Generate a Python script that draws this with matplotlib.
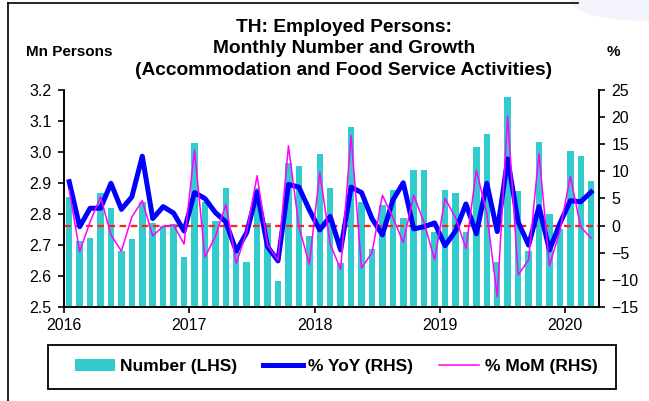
import matplotlib
matplotlib.use("Agg")
import matplotlib.pyplot as plt
import numpy as np
from matplotlib.patches import Patch, Ellipse, Rectangle
from matplotlib.lines import Line2D

plt.rcParams['font.family'] = ['Liberation Sans', 'DejaVu Sans']

# monthly data, Jan 2016 - Mar 2020
number = [2.854, 2.713, 2.724, 2.867, 2.820, 2.681, 2.719, 2.840, 2.772, 2.761, 2.767, 2.662,
          3.028, 2.840, 2.777, 2.883, 2.700, 2.646, 2.883, 2.772, 2.584, 2.966, 2.955, 2.729,
          2.994, 2.883, 2.643, 3.080, 2.840, 2.686, 2.829, 2.877, 2.788, 2.942, 2.942, 2.743,
          2.877, 2.867, 2.743, 3.017, 3.057, 2.646, 3.176, 2.874, 2.681, 3.032, 2.801, 2.750,
          3.003, 2.988, 2.906]
yoy = [8.1, -0.2, 3.2, 3.2, 7.8, 3.0, 5.3, 12.8, 1.3, 3.5, 2.3, -1.0,
       6.1, 5.0, 2.4, 0.7, -4.7, -1.3, 6.2, -3.9, -6.5, 7.6, 7.1, 2.9,
       -0.8, 1.7, -4.5, 7.1, 6.1, 1.3, -1.7, 4.7, 7.9, -0.6, -0.2, 0.5,
       -3.7, -1.0, 4.0, -1.5, 7.8, -1.1, 12.3, 0.7, -3.6, 3.5, -4.5, 0.4,
       4.6, 4.4, 6.2]
mom = [6.6, -4.8, 0.7, 5.3, -1.7, -4.7, 1.6, 4.6, -1.9, -0.1, 0.1, -3.4,
       13.9, -5.8, -2.0, 3.9, -7.0, -1.1, 9.2, -3.6, -6.3, 14.7, -0.2, -7.1,
       9.8, -3.4, -8.1, 16.6, -7.8, -5.0, 5.6, 1.5, -3.1, 5.6, 0.5, -6.3,
       5.0, 1.5, -4.2, 10.2, 2.3, -13.1, 20.2, -9.1, -6.3, 13.3, -7.4, -1.0,
       9.1, -0.3, -2.3]
years = ['2016', '2017', '2018', '2019', '2020']
left_ticks = [2.5, 2.6, 2.7, 2.8, 2.9, 3.0, 3.1, 3.2]
right_ticks = [-15, -10, -5, 0, 5, 10, 15, 20, 25]

x = np.arange(len(number))

fig = plt.figure(figsize=(6.49, 4.01), dpi=100)
ax = fig.add_axes([0.0986, 0.2344, 0.8244, 0.5412])
ax2 = ax.twinx()

ax.bar(x, np.array(number) - 2.5, bottom=2.5, width=0.62, color='#33CCCC', edgecolor='none', zorder=2)
ax2.axhline(0, color='#FF2020', ls=(0, (3, 2)), lw=1.6, zorder=1)
ax2.plot(x, yoy, color='#0000FF', lw=3.6, solid_joinstyle='round', zorder=3)
ax2.plot(x, mom, color='#FF00FF', lw=1.1, zorder=4)

ax.set_xlim(-0.5, 50.75)
ax.set_ylim(2.5, 3.2)
ax2.set_ylim(-15, 25)
ax.set_yticks(left_ticks)
ax.set_yticklabels(['%.1f' % v for v in left_ticks])
ax2.set_yticks(right_ticks)
ax.set_xticks([-0.5 + 12 * i for i in range(len(years))])
ax.set_xticklabels(years)

for a in (ax, ax2):
    a.spines['top'].set_visible(False)
    for s in ('left', 'right', 'bottom'):
        a.spines[s].set_linewidth(1.2)
    a.tick_params(length=4, width=1.2, labelsize=11.5)
ax.tick_params(axis='x', pad=4)
ax.tick_params(axis='y', pad=5)
ax2.tick_params(axis='y', pad=5)

fig.text(0.530, 0.952, 'TH: Employed Persons:\nMonthly Number and Growth\n(Accommodation and Food Service Activities)',
         ha='center', va='top', fontsize=13.8, fontweight='bold', linespacing=1.32)
fig.text(0.106, 0.87, 'Mn Persons', ha='center', va='center', fontsize=11, fontweight='bold')
fig.text(0.945, 0.87, '%', ha='center', va='center', fontsize=11, fontweight='bold')

# legend frame drawn separately so it keeps the reference height
fig.add_artist(Rectangle((0.074, 0.030), 0.875, 0.110, transform=fig.transFigure,
                         facecolor='white', edgecolor='black', lw=1.3, zorder=5))
handles = [Patch(facecolor='#33CCCC', edgecolor='none'),
           Line2D([], [], color='#0000FF', lw=3.6),
           Line2D([], [], color='#FF00FF', lw=1.1)]
labels = ['Number (LHS)', '% YoY (RHS)', '% MoM (RHS)']
leg = fig.legend(handles, labels, loc='center', ncol=3,
                 bbox_to_anchor=(0.518, 0.085), frameon=False,
                 prop={'weight': 'bold', 'size': 12.5}, handlelength=2.3, handleheight=0.7,
                 handletextpad=0.3, columnspacing=1.5, borderaxespad=0)
leg.set_zorder(6)

# outer frame and faint background shape
fig.add_artist(Line2D([0.012, 0.012], [0.0, 0.992], color='black', lw=1.2))
fig.add_artist(Line2D([0.012, 0.89], [0.992, 0.992], color='black', lw=1.2))
fig.add_artist(Ellipse((0.99, 1.0), 0.22, 0.10, color='#F2F3FB', zorder=0))

fig.savefig('out.png', dpi=100)
